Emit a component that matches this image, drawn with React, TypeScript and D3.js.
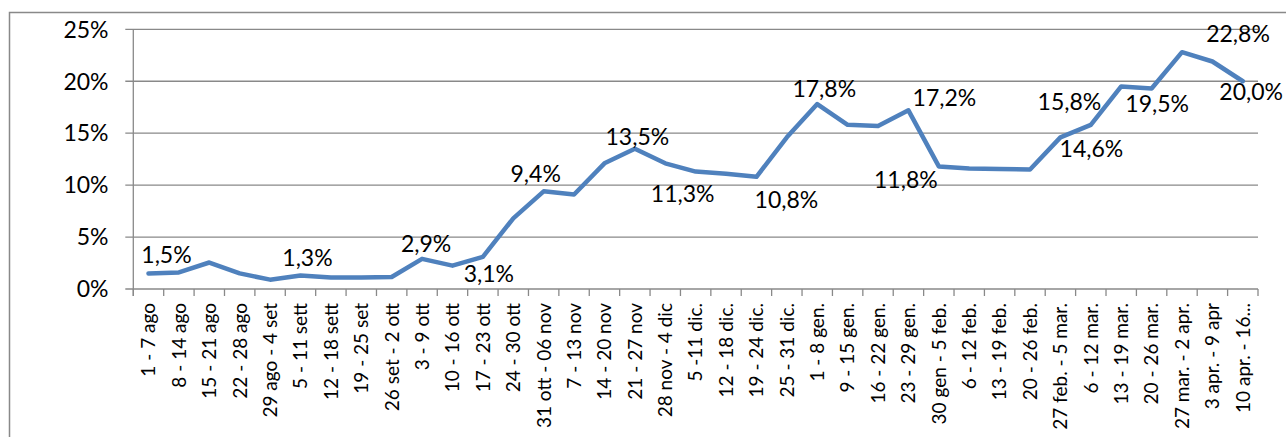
import React, { useEffect, useRef } from "react";
import * as d3 from "d3";

// weekly share (%) per period
const categories: string[] = [
  "1 - 7 ago", "8 - 14 ago", "15 - 21 ago", "22 - 28 ago", "29 ago - 4 set",
  "5 - 11 sett", "12 - 18 sett", "19 - 25 set", "26 set - 2 ott", "3 - 9 ott",
  "10 - 16 ott", "17 - 23 ott", "24 - 30 ott", "31 ott - 06 nov", "7 - 13 nov",
  "14 - 20 nov", "21 - 27 nov", "28 nov - 4 dic", "5 -11 dic.", "12 - 18 dic.",
  "19 - 24 dic.", "25 - 31 dic.", "1 - 8 gen.", "9 - 15 gen.", "16 - 22 gen.",
  "23 - 29 gen.", "30 gen - 5 feb.", "6 - 12 feb.", "13 - 19 feb.", "20 - 26 feb.",
  "27 feb. - 5 mar.", "6 - 12 mar.", "13 - 19 mar.", "20 - 26 mar.", "27 mar. - 2 apr.",
  "3 apr. - 9 apr", "10 apr. - 16...",
];

const values: number[] = [
  1.5, 1.6, 2.55, 1.5, 0.9, 1.3, 1.1, 1.1, 1.15, 2.9,
  2.25, 3.1, 6.8, 9.4, 9.1, 12.1, 13.5, 12.1, 11.3, 11.1,
  10.8, 14.6, 17.8, 15.8, 15.7, 17.2, 11.8, 11.6, 11.55, 11.5,
  14.6, 15.8, 19.5, 19.3, 22.8, 21.9, 20.0,
];

const yTicks: number[] = [0, 5, 10, 15, 20, 25];

// which points carry a data label
const labelled: number[] = [0, 5, 9, 11, 13, 16, 18, 20, 22, 25, 26, 30, 31, 32, 34, 36];

// manual label placement, offset from the point (text centre, baseline)
const labelOffsets: Record<number, [number, number]> = {
  0: [18, -10], 5: [7, -9], 9: [4, -7], 11: [6, 25], 13: [-8, -9.5],
  16: [2.5, -3.6], 18: [-13, 30], 20: [30, 31.6], 22: [7, -7], 25: [36, -4],
  26: [-33, 22], 30: [31, 19.5], 31: [-21.4, -14.7], 32: [36, 25.5],
  34: [56, -10], 36: [8.4, 19],
};

const W = 1286;
const H = 437;
const FONT = "Lato, 'Liberation Sans', sans-serif";

const App: React.FC = () => {
  const svgRef = useRef<SVGSVGElement | null>(null);

  useEffect(() => {
    if (!svgRef.current) return;
    const svg = d3.select(svgRef.current);
    svg.selectAll("*").remove();

    const left = 133.3;
    const right = 1258;
    const top = 29.3;
    const bottom = 289;

    const x = d3
      .scaleBand<number>()
      .domain(d3.range(categories.length))
      .range([left, right]);
    const y = d3.scaleLinear().domain([0, 25]).range([bottom, top]);
    const cx = (i: number) => x(i)! + x.bandwidth() / 2;

    // outer chart border
    svg
      .append("rect")
      .attr("x", 9.5)
      .attr("y", 12.5)
      .attr("width", W + 20)
      .attr("height", H + 20)
      .attr("fill", "none")
      .attr("stroke", "#898989")
      .attr("stroke-width", 1.5);

    // gridlines
    svg
      .append("g")
      .selectAll("line")
      .data(yTicks)
      .enter()
      .append("line")
      .attr("x1", left - 8)
      .attr("x2", right)
      .attr("y1", (d) => y(d))
      .attr("y2", (d) => y(d))
      .attr("stroke", "#898989")
      .attr("stroke-width", 1.3);

    // y axis line
    svg
      .append("line")
      .attr("x1", left)
      .attr("x2", left)
      .attr("y1", top)
      .attr("y2", bottom + 7)
      .attr("stroke", "#898989")
      .attr("stroke-width", 1.3);

    // x ticks at category boundaries
    const bounds = d3.range(categories.length + 1).map((i) => left + i * x.step());
    svg
      .append("g")
      .selectAll("line")
      .data(bounds)
      .enter()
      .append("line")
      .attr("x1", (d) => d)
      .attr("x2", (d) => d)
      .attr("y1", bottom)
      .attr("y2", bottom + 7)
      .attr("stroke", "#898989")
      .attr("stroke-width", 1.3);

    // y tick labels
    svg
      .append("g")
      .selectAll("text")
      .data(yTicks)
      .enter()
      .append("text")
      .attr("x", 108.5)
      .attr("y", (d) => y(d))
      .attr("dy", "0.36em")
      .attr("text-anchor", "end")
      .style("font-family", FONT)
      .style("font-size", "23px")
      .attr("fill", "#000")
      .text((d) => `${d}%`);

    // x labels, rotated
    svg
      .append("g")
      .selectAll("text")
      .data(categories)
      .enter()
      .append("text")
      .attr("transform", (_d, i) => `translate(${cx(i)},${303}) rotate(-90)`)
      .attr("dy", "0.36em")
      .attr("text-anchor", "end")
      .style("font-family", FONT)
      .style("font-size", "19px")
      .attr("fill", "#000")
      .text((d) => d);

    // line
    const line = d3
      .line<number>()
      .x((_d, i) => cx(i))
      .y((d) => y(d));

    svg
      .append("path")
      .datum(values)
      .attr("d", line)
      .attr("fill", "none")
      .attr("stroke", "#4F81BD")
      .attr("stroke-width", 4.5)
      .attr("stroke-linejoin", "round")
      .attr("stroke-linecap", "round");

    // data labels
    svg
      .append("g")
      .selectAll("text")
      .data(labelled)
      .enter()
      .append("text")
      .attr("x", (i) => cx(i) + labelOffsets[i][0])
      .attr("y", (i) => y(values[i]) + labelOffsets[i][1])
      .attr("text-anchor", "middle")
      .style("font-family", FONT)
      .style("font-size", "23px")
      .attr("fill", "#000")
      .text((i) => `${values[i].toFixed(1).replace(".", ",")}%`);
  }, []);

  return (
    <div style={{ position: "absolute", left: 0, top: 0 }}>
      <svg ref={svgRef} width={W} height={H} style={{ display: "block", background: "#fff" }}></svg>
    </div>
  );
};

export default App;
